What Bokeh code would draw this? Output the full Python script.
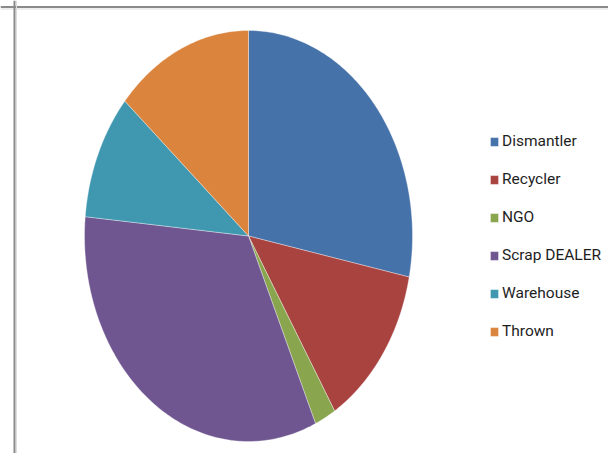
import numpy as np
from bokeh.plotting import figure
from bokeh.models import Range1d, Legend, LegendItem, Span, ColumnDataSource
from bokeh.embed import file_html
from bokeh.resources import INLINE

# Data
categories = ["Dismantler", "Recycler", "NGO", "Scrap DEALER", "Warehouse", "Thrown"]
shares = [28.2, 13.0, 2.1, 33.2, 9.9, 13.6]
colors = ["#4672AA", "#A94340", "#89A54E", "#6F5690", "#3F98AF", "#DA843D"]

W, H = 608, 453
p = figure(width=W, height=H, x_range=Range1d(0, W), y_range=Range1d(0, H),
           output_backend="svg", toolbar_location=None, min_border=0)
p.axis.visible = False
p.grid.visible = False
p.outline_line_color = None
p.background_fill_color = "white"
p.border_fill_color = "white"

# window frame lines
p.add_layout(Span(location=446.5, dimension="width", line_color="#8a8a8a", line_width=2))
p.add_layout(Span(location=444.5, dimension="width", line_color="#dcdcdc", line_width=1))
p.add_layout(Span(location=14, dimension="height", line_color="#8a8a8a", line_width=2))
p.add_layout(Span(location=16, dimension="height", line_color="#dcdcdc", line_width=1))

# elliptical pie
cx, cy = 248.0, 217.5
rx, ry = 164.0, 205.5
total = float(sum(shares))
cum = np.concatenate([[0.0], np.cumsum(shares)]) / total
xs, ys = [], []
for i in range(len(shares)):
    a0, a1 = cum[i] * 2 * np.pi, cum[i + 1] * 2 * np.pi
    n = max(4, int((a1 - a0) / (2 * np.pi) * 400))
    t = np.linspace(a0, a1, n)
    xs.append([cx] + list(cx + rx * np.sin(t)) + [cx])
    ys.append([cy] + list(cy + ry * np.cos(t)) + [cy])

items = []
for i, cat in enumerate(categories):
    src = ColumnDataSource(dict(xs=[xs[i]], ys=[ys[i]]))
    r = p.patches("xs", "ys", source=src, fill_color=colors[i],
                  line_color="white", line_width=0.6, line_alpha=0.6)
    items.append(LegendItem(label=cat, renderers=[r]))

legend = Legend(items=items, location=(489, 112), orientation="vertical",
                glyph_width=10, glyph_height=11, label_standoff=3,
                label_height=20, spacing=18, padding=0, margin=0,
                border_line_alpha=0, background_fill_alpha=0,
                label_text_font="Roboto", label_text_font_size="15.5px",
                label_text_color="#1e1e1e")
p.add_layout(legend, "center")

open("out.html", "w").write(file_html(p, INLINE))
